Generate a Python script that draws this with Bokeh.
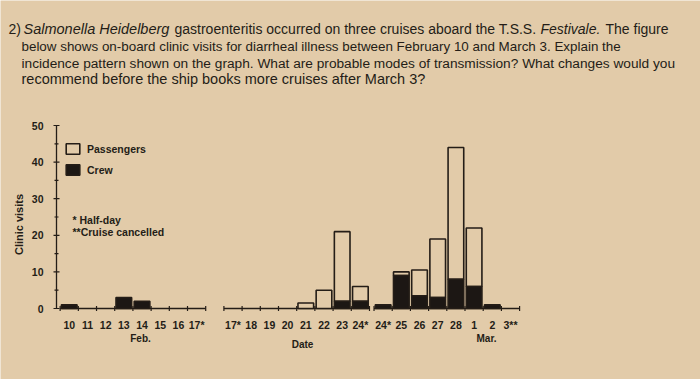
import math
from bokeh.plotting import figure
from bokeh.models import Range1d, Label, Legend, LegendItem, ColumnDataSource
from bokeh.core.properties import value
from bokeh.embed import file_html
from bokeh.resources import INLINE

# ---------------- data ----------------
day_labels = [
    ["10", "11", "12", "13", "14", "15", "16", "17*"],
    ["17*", "18", "19", "20", "21", "22", "23", "24*"],
    ["24*", "25", "26", "27", "28", "1", "2", "3**"],
]
crew_visits = [
    [1, 0, 0, 3, 2, 0, 0, 0],
    [0, 0, 0, 0, 0, 0, 2, 2],
    [1, 9, 3.5, 3, 8, 6, 1, 0],
]
passenger_visits = [
    [0, 0, 0, 0, 0, 0, 0, 0],
    [0, 0, 0, 0, 1.5, 5, 19, 4],
    [0, 1, 7, 16, 36, 16, 0, 0],
]
y_major_ticks = [0, 10, 20, 30, 40, 50]
y_minor_ticks = [5, 15, 25, 35, 45]

question_lines = [
    [("2) ", "normal", 8, "14px"), ("Salmonella Heidelberg", "italic", 23, "14.5px"),
     ("gastroenteritis occurred on three cruises aboard the T.S.S.", "normal", 174, "14px"),
     ("Festivale.", "italic", 540, "14px"), ("The figure", "normal", 605, "14px")],
    [("below shows on-board clinic visits for diarrheal illness between February 10 and March 3. Explain the", "normal", 21, "13.4px")],
    [("incidence pattern shown on the graph. What are probable modes of transmission? What changes would you", "normal", 21, "13.7px")],
    [("recommend before the ship books more cruises after March 3?", "normal", 21, "14.5px")],
]
line_centers = [28, 45.5, 62.5, 78.5]

# ---------------- layout constants ----------------
SEG_START = [0.0, 9.0, 17.25]
BG = "#e2cba9"
INK = "#241d17"
FONT = "Liberation Sans"
W, H = 700, 379
IMG_X_AT_M02 = 56.0          # x = -0.2
PX_PER_DAY = 464.0 / 25.5
IMG_Y_AT_0 = 308.0           # y = 0
PX_PER_VISIT = 183.0 / 50.0

def px2x(img_x):
    return -0.2 + (img_x - IMG_X_AT_M02) / PX_PER_DAY

def px2y(img_y):
    return (IMG_Y_AT_0 - img_y) / PX_PER_VISIT

x_start, x_end = px2x(0), px2x(W)
y_end, y_start = px2y(0), px2y(H)

# ---------------- sources ----------------
cx, cbot, ctop = [], [], []
px_, pbot, ptop = [], [], []
centers, labels = [], []
for s in range(3):
    for i in range(8):
        x = SEG_START[s] + i + 0.5
        centers.append(x)
        labels.append(day_labels[s][i])
        c = crew_visits[s][i]
        pv = passenger_visits[s][i]
        if c > 0:
            cx.append(x); cbot.append(0); ctop.append(c)
        if pv > 0:
            px_.append(x); pbot.append(c); ptop.append(c + pv)

crew_src = ColumnDataSource(dict(x=cx, bottom=cbot, top=ctop))
pass_src = ColumnDataSource(dict(x=px_, bottom=pbot, top=ptop))

p = figure(width=W, height=H, x_range=Range1d(x_start, x_end), y_range=Range1d(y_start, y_end),
           output_backend="svg", toolbar_location=None,
           min_border=0, x_axis_type=None, y_axis_type=None)
p.background_fill_color = BG
p.border_fill_color = BG
p.outline_line_color = None
p.grid.visible = False

# ---- broken x axis ----
p.multi_line(xs=[[SEG_START[s], SEG_START[s] + 8] for s in range(3)],
             ys=[[0, 0] for s in range(3)], line_color=INK, line_width=1.3)
tx = [SEG_START[s] + k for s in range(3) for k in range(9)]
tick_h = 2.5 / PX_PER_VISIT
p.multi_line(xs=[[t, t] for t in tx], ys=[[-tick_h, tick_h] for t in tx],
             line_color=INK, line_width=1.2)
p.text(x=centers, y=[px2y(324)] * len(centers), text=labels,
       text_font=value(FONT), text_font_style="bold", text_font_size="10.5px",
       text_color=INK, text_align="center", text_baseline="middle")

# ---- y axis ----
ax_x = -0.2
p.multi_line(xs=[[ax_x, ax_x]], ys=[[0, 50]], line_color=INK, line_width=1.3)
mt = 3.0 / PX_PER_DAY
nt = 2.0 / PX_PER_DAY
p.multi_line(xs=[[ax_x - mt, ax_x + mt] for v in y_major_ticks],
             ys=[[v, v] for v in y_major_ticks], line_color=INK, line_width=1.2)
p.multi_line(xs=[[ax_x - nt, ax_x + nt] for v in y_minor_ticks],
             ys=[[v, v] for v in y_minor_ticks], line_color=INK, line_width=1.2)
p.text(x=[px2x(43)] * len(y_major_ticks), y=y_major_ticks, text=[str(v) for v in y_major_ticks],
       text_font=value(FONT), text_font_style="bold", text_font_size="10.5px",
       text_color=INK, text_align="right", text_baseline="middle")
p.text(x=[px2x(18)], y=[px2y(224)], text=["Clinic visits"], angle=math.pi / 2,
       text_font=value(FONT), text_font_style="bold", text_font_size="11px",
       text_color=INK, text_align="center", text_baseline="middle")

# ---- bars ----
r_pass = p.vbar(x="x", bottom="bottom", top="top", width=0.86, source=pass_src,
                fill_color=BG, line_color=INK, line_width=1.6)
r_crew = p.vbar(x="x", bottom="bottom", top="top", width=0.86, source=crew_src,
                fill_color="#1c1714", line_color=INK, line_width=1.6)

# ---- legend ----
legend = Legend(items=[LegendItem(label="Passengers", renderers=[r_pass]),
                       LegendItem(label="Crew", renderers=[r_crew])],
                location=(64, H - 142 - 34), orientation="vertical",
                glyph_width=17, glyph_height=13, label_height=13, spacing=8,
                padding=0, margin=0, label_standoff=6,
                border_line_color=None, background_fill_alpha=0,
                label_text_font=FONT, label_text_font_style="bold",
                label_text_font_size="10.5px", label_text_color=INK)
p.add_layout(legend)

def add_label(text, img_x, img_y, size, style="bold", align="left"):
    p.add_layout(Label(x=px2x(img_x), y=px2y(img_y), text=text,
                       text_font=FONT, text_font_style=style, text_font_size=size,
                       text_color=INK, text_baseline="middle", text_align=align))

add_label("*  Half-day", 72, 219, "10.5px")
add_label("**Cruise cancelled", 72, 231, "10.5px")
add_label("Feb.", 140, 338, "10px", align="center")
add_label("Mar.", 486, 338, "10px", align="center")
add_label("Date", 302, 344, "10px", align="center")

for line, yc in zip(question_lines, line_centers):
    for text, style, xpx, fs in line:
        add_label(text, xpx, yc, fs, style=style)

open("out.html", "w").write(file_html(p, INLINE))
